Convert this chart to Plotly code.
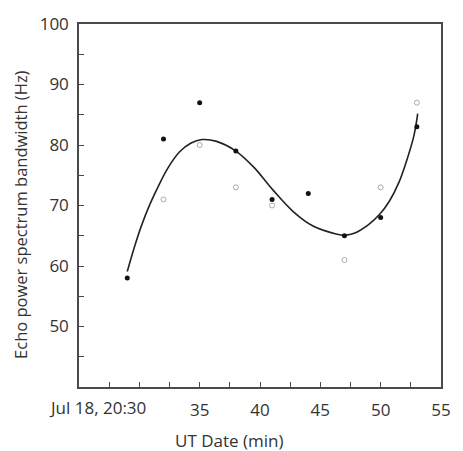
import plotly.graph_objects as go

# Data (UT minutes after 20:00 on Jul 18)
filled_t = [29, 32, 35, 38, 41, 44, 47, 50, 53]
filled_v = [58, 81, 87, 79, 71, 72, 65, 68, 83]

open_t = [32, 35, 38, 41, 47, 50, 53]
open_v = [71, 80, 73, 70, 61, 73, 87]

# Fitted curve
curve_t = [29, 29.6, 30.2, 30.9, 31.6, 32.4, 33.3, 34.25, 35.2, 36.4, 38.0, 39.5, 41.1,
           42.75, 44.4, 46.3, 47.1, 47.8, 48.97, 49.9, 50.72, 51.53, 52.2, 52.75, 53.07]
curve_v = [59.1, 63.2, 66.8, 70.3, 73.3, 76.3, 78.8, 80.3, 80.9, 80.6, 79.0, 76.3, 72.5,
           69.0, 66.6, 65.3, 65.1, 65.4, 66.8, 68.5, 70.7, 73.9, 77.7, 81.5, 85.2]

x_tickvals = [35, 40, 45, 50, 55]
x_ticktext = ["35", "40", "45", "50", "55"]
first_label = "Jul 18, 20:30"
y_tickvals = [50, 60, 70, 80, 90, 100]

FONT = "Open Sans"
TXT = "#333333"
AX = "#4a4a4a"

fig = go.Figure()
fig.add_trace(go.Scatter(x=curve_t, y=curve_v, mode="lines",
                         line=dict(color="#222222", width=1.6, shape="spline", smoothing=1.0),
                         hoverinfo="skip", showlegend=False))
fig.add_trace(go.Scatter(x=open_t, y=open_v, mode="markers",
                         marker=dict(symbol="circle-open", size=5, color="#aaaaaa",
                                     line=dict(width=1, color="#aaaaaa")),
                         showlegend=False))
fig.add_trace(go.Scatter(x=filled_t, y=filled_v, mode="markers",
                         marker=dict(symbol="circle", size=5, color="#111111"),
                         showlegend=False))

axis_common = dict(showline=True, linecolor=AX, linewidth=1.5, mirror=True,
                   ticks="inside", ticklen=5, tickwidth=1, tickcolor=AX,
                   showgrid=False, zeroline=False,
                   tickfont=dict(family=FONT, size=17, color=TXT))

fig.update_xaxes(range=[25, 55], tickmode="array", tickvals=x_tickvals, ticktext=x_ticktext,
                 minor=dict(dtick=2.5, tick0=25, ticks="inside", ticklen=5, tickcolor=AX, showgrid=False),
                 ticklabelstandoff=7, **axis_common)
fig.update_yaxes(range=[40, 100], tickmode="array", tickvals=y_tickvals,
                 minor=dict(dtick=5, tick0=40, ticks="inside", ticklen=5, tickcolor=AX, showgrid=False),
                 ticklabelstandoff=5, **axis_common)

fig.add_annotation(text=first_label, x=26.5, y=0, xref="x", yref="paper",
                   xanchor="center", yanchor="top", yshift=-7, showarrow=False,
                   font=dict(family=FONT, size=17, color=TXT))
fig.add_annotation(text="UT Date (min)", x=(233 - 79) / 372, y=0, xref="paper", yref="paper",
                   xanchor="center", yanchor="top", yshift=-40, showarrow=False,
                   font=dict(family=FONT, size=17, color=TXT))
fig.add_annotation(text="Echo power spectrum bandwidth (Hz)", x=(19 - 79) / 372,
                   y=(387 - 210) / 372, xref="paper", yref="paper", textangle=-90,
                   xanchor="center", yanchor="middle", showarrow=False,
                   font=dict(family=FONT, size=16.5, color=TXT))

fig.update_layout(width=463, height=451, margin=dict(l=79, r=12, t=15, b=64),
                  plot_bgcolor="white", paper_bgcolor="white", showlegend=False)

fig.write_html("out.html")
